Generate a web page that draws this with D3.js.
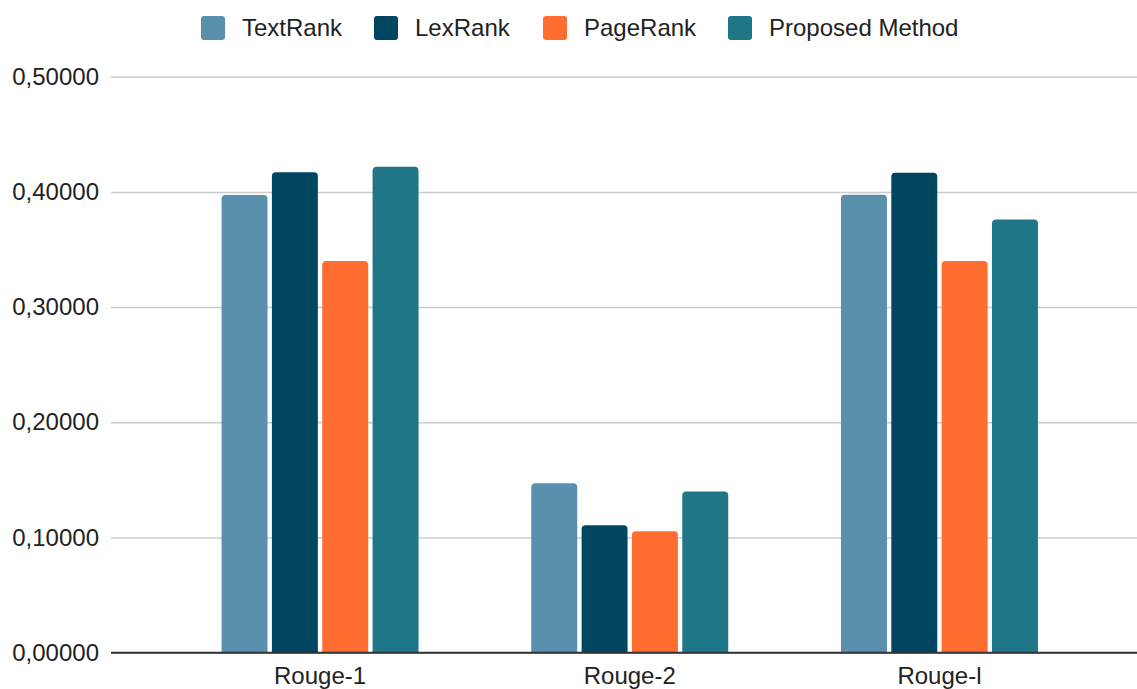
<!DOCTYPE html>
<html>
<head>
<meta charset="utf-8">
<script src="https://cdn.jsdelivr.net/npm/d3@7"></script>
<style>
  body { margin: 0; background: #fff; }
  svg text { font-family: "Liberation Sans", Arial, sans-serif; fill: #222; }
</style>
</head>
<body>
<svg id="chart" width="1137" height="689"></svg>
<script>
// data
const categories = ["Rouge-1", "Rouge-2", "Rouge-l"]
const seriesNames = ["TextRank", "LexRank", "PageRank", "Proposed Method"]
const textRank = [0.3973, 0.1470, 0.3976]
const lexRank = [0.4170, 0.1106, 0.4167]
const pageRank = [0.3400, 0.1054, 0.3400]
const proposed = [0.4219, 0.1400, 0.3760]
const yTicks = [0, 0.1, 0.2, 0.3, 0.4, 0.5]
const colors = ["#5991ad", "#014660", "#ff6d31", "#1f7686"]

const seriesValues = [textRank, lexRank, pageRank, proposed]

const svg = d3.select("#chart")
const fontSize = 24
const plot = { left: 111, right: 1137, top: 76.7, bottom: 652.7 }

const y = d3.scaleLinear().domain([0, 0.5]).range([plot.bottom, plot.top])

const x0 = d3.scaleBand()
    .domain(categories)
    .range([165.2, 1094.3])
    .paddingInner(0.364)
    .paddingOuter(0.182)

const x1 = d3.scaleBand()
    .domain(seriesNames)
    .range([0, x0.bandwidth()])
    .paddingInner(0.087)

const color = d3.scaleOrdinal().domain(seriesNames).range(colors)

const locale = d3.formatLocale({ decimal: ",", thousands: ".", grouping: [3], currency: ["", ""] })
const fmt = locale.format(".5f")

// gridlines + y labels
const yAxis = svg.append("g")
    .attr("transform", `translate(${plot.left},0)`)
    .call(d3.axisLeft(y).tickValues(yTicks).tickFormat(fmt)
        .tickSize(-(plot.right - plot.left)).tickPadding(12))
yAxis.select(".domain").remove()
yAxis.selectAll(".tick line").attr("stroke", "#cccccc").attr("stroke-width", 1.5)
yAxis.selectAll(".tick text").attr("font-size", fontSize).attr("fill", "#222")
    .attr("font-family", "Liberation Sans, Arial, sans-serif")

// bars, rounded top corners only
function barPath(xp, yp, w, h, r) {
    r = Math.min(r, h, w / 2)
    return `M${xp},${yp + h}V${yp + r}Q${xp},${yp} ${xp + r},${yp}H${xp + w - r}Q${xp + w},${yp} ${xp + w},${yp + r}V${yp + h}Z`
}

const rows = []
categories.forEach((c, i) => {
    seriesNames.forEach((s, j) => rows.push({ cat: c, series: s, value: seriesValues[j][i] }))
})

svg.append("g").selectAll("path")
    .data(rows)
    .enter()
    .append("path")
    .attr("fill", d => color(d.series))
    .attr("d", d => {
        const bx = x0(d.cat) + x1(d.series)
        const by = y(d.value)
        return barPath(bx, by, x1.bandwidth(), y(0) - by, 4)
    })

// baseline + category labels
const xAxis = svg.append("g")
    .attr("transform", `translate(0,${plot.bottom})`)
    .call(d3.axisBottom(x0).tickSize(0).tickPadding(14))
xAxis.select(".domain").remove()
xAxis.selectAll(".tick text").attr("font-size", fontSize).attr("fill", "#222")
    .attr("font-family", "Liberation Sans, Arial, sans-serif")

svg.append("line")
    .attr("x1", plot.left).attr("x2", plot.right)
    .attr("y1", plot.bottom).attr("y2", plot.bottom)
    .attr("stroke", "#333").attr("stroke-width", 2)

// legend
const legendX = [201, 374, 543, 728]
const legend = svg.append("g").selectAll("g")
    .data(seriesNames)
    .enter()
    .append("g")
    .attr("transform", (d, i) => `translate(${legendX[i]},16)`)

legend.append("rect")
    .attr("width", 24).attr("height", 24).attr("rx", 3)
    .attr("fill", d => color(d))

legend.append("text")
    .attr("x", 41).attr("y", 12).attr("dy", "0.35em")
    .attr("font-size", fontSize)
    .text(d => d)
</script>
</body>
</html>
